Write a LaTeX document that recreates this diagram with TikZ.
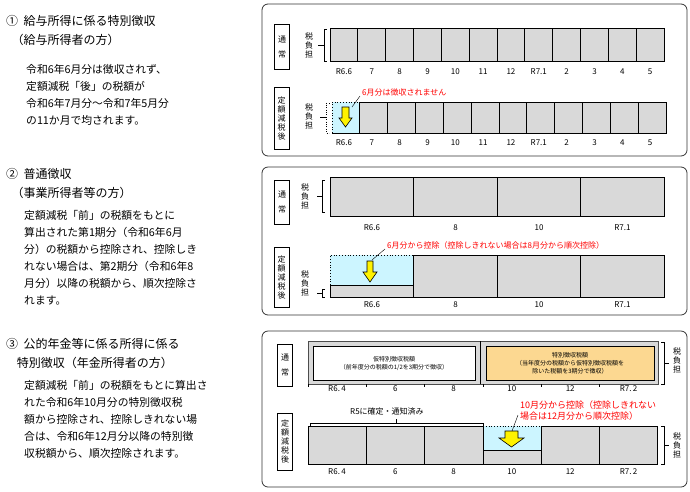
\documentclass[tikz,border=0pt]{standalone}
\usepackage{fontspec}
\setmainfont{Noto Sans CJK JP}
\begin{document}
\begin{tikzpicture}[x=1pt,y=-1pt,
 panel/.style={draw=black!80,line width=0.8pt,rounded corners=6pt},
 cell/.style={draw=black,line width=0.8pt,fill=black!15},
 lbl/.style={font=\fontsize{8}{9}\selectfont,inner sep=0},
 vbox/.style={draw,line width=0.8pt,font=\fontsize{8}{9}\selectfont,align=center,inner sep=1pt},
 red/.style={text=red,font=\fontsize{8}{9}\selectfont,inner sep=0,anchor=west},
 head/.style={anchor=west,font=\fontsize{12}{19}\selectfont,align=left,inner sep=0},
 body/.style={anchor=west,font=\fontsize{10.8}{17}\selectfont,align=left,inner sep=0},
 yarr/.style={fill=yellow,draw=black,line width=0.6pt}]
\useasboundingbox (0,0) rectangle (690,491);
% left texts
\node[head] (h1) at (6,30) {①\ \ 給与所得に係る特別徴収\\\ \ （給与所得者の方）};
\node[body] (b1) at (26,95) {令和6年6月分は徴収されず、\\定額減税「後」の税額が\\令和6年7月分～令和7年5月分\\の11か月で均されます。};
\node[head] (h2) at (6,183) {②\ \ 普通徴収\\\ \ （事業所得者等の方）};
\node[body] (b2) at (24,258) {定額減税「前」の税額をもとに\\算出された第1期分（令和6年6月\\分）の税額から控除され、控除しき\\れない場合は、第2期分（令和6年8\\月分）以降の税額から、順次控除さ\\れます。};
\node[head] (h3) at (6,353) {③\ \ 公的年金等に係る所得に係る\\\ \ \ \ 特別徴収（年金所得者の方）};
\node[body] (b3) at (24,419) {定額減税「前」の税額をもとに算出さ\\れた令和6年10月分の特別徴収税\\額から控除され、控除しきれない場\\合は、令和6年12月分以降の特別徴\\収税額から、順次控除されます。};
% panel 1
\draw[panel] (262,4) rectangle (687,156);
\node[vbox,minimum width=15pt,minimum height=45pt] (t1) at (282,47) {通\\[6pt]常};
\node[vbox,minimum width=15pt,minimum height=62pt] (g1) at (281.5,118.5) {定\\額\\減\\税\\後};
\foreach \i/\l in {0/R6.6,1/7,2/8,3/9,4/10,5/11,6/12,7/R7.1,8/2,9/3,10/4,11/5}{
  \draw[cell] ({330+\i*27.83},28) rectangle ({330+(\i+1)*27.83},61);
  \node[lbl] at ({344+\i*27.83},72) {\l};
  \node[lbl] at ({344+\i*27.83},143) {\l};
  \ifnum\i>0 \draw[cell] ({332+\i*27.83},102) rectangle ({332+(\i+1)*27.83},133);\fi
}
\fill[blue!20!cyan!20] (332,102) rectangle (359.8,133);
\draw[dotted,thick] (332,133) -- (332,102) -- (359.8,102);
\draw[line width=0.8pt] (332,133) -- (359.8,133) -- (359.8,102);
\node[lbl,align=center] at (309,45) {税\\負\\担};
\node[lbl,align=center] at (309,116) {税\\負\\担};
\draw (327,29) -- (324,29) -- (324,61) -- (327,61) (324,45) -- (318,45);
\draw[dotted] (329,103) -- (326,103) -- (326,133) -- (329,133); \draw (326,117) -- (320,117);
\draw[yarr] (342,107) -- (349,107) -- (349,118) -- (352,118) -- (345.5,127) -- (339,118) -- (342,118) -- cycle;
\node[red] (r1) at (362,92) {6月分は徴収されません};
\draw (360,96) -- (352,107);
% panel 2
\draw[panel] (262,167) rectangle (687,315);
\node[vbox,minimum width=15pt,minimum height=44pt] (t2) at (282,202) {通\\[6pt]常};
\node[vbox,minimum width=15pt,minimum height=60pt] (g2) at (281.5,277) {定\\額\\減\\税\\後};
\foreach \i/\l in {0/R6.6,1/8,2/10,3/R7.1}{
  \draw[cell] ({330+\i*83.5},177) rectangle ({330+(\i+1)*83.5},216);
  \node[lbl] at ({372+\i*83.5},228) {\l};
  \node[lbl] at ({372+\i*83.5},305) {\l};
  \ifnum\i>0 \draw[cell] ({330+\i*83.5},255) rectangle ({330+(\i+1)*83.5},297);\fi
}
\fill[blue!20!cyan!20] (330,255) rectangle (413.5,285);
\draw[cell] (330,285) rectangle (413.5,297);
\draw[dotted,thick] (330,285) -- (330,255) -- (413.5,255);
\draw[line width=0.8pt] (413.5,255) -- (413.5,285);
\node[lbl,align=center] at (305,196) {税\\負\\担};
\node[lbl,align=center] at (305,283) {税\\負\\担};
\draw (325,180) -- (322,180) -- (322,212) -- (325,212) (322,196) -- (317,196);
\draw (325,289) -- (322,289) -- (322,297) -- (325,297) (322,293) -- (317,293);
\draw[yarr] (367,261) -- (373,261) -- (373,272) -- (377,272) -- (370,282) -- (363,272) -- (367,272) -- cycle;
\node[red] (r2) at (387,245) {6月分から控除（控除しきれない場合は8月分から順次控除）};
\draw (385,249) -- (372,260);
% panel 3
\draw[panel] (262,331) rectangle (687,487);
\node[vbox,minimum width=15pt,minimum height=42pt] (t3) at (285,365) {通\\[6pt]常};
\node[vbox,minimum width=15pt,minimum height=57pt] (g3) at (285,441.5) {定\\額\\減\\税\\後};
\draw[draw=black!70,line width=0.8pt,fill=black!15] (308,341) rectangle (658,384);
\draw[line width=0.8pt] (480,341) -- (480,384);
\foreach \i/\l in {0/R6.\,4,1/6,2/8,3/10,4/12,5/R7.\,2}{
  \node[lbl] at ({337+\i*58.3},389) {\l};
  \node[lbl] at ({337+\i*58.3},472) {\l};
  \ifnum\i=3\else \draw[cell] ({308+\i*58.3},426) rectangle ({308+(\i+1)*58.3},464);\fi
  \draw[line width=0.6pt] ({308+\i*58.3},384) -- ({308+\i*58.3},387);
}
\node[draw,fill=white,line width=0.8pt,minimum width=162pt,minimum height=34pt,align=center,inner sep=0,font=\fontsize{6}{8}\selectfont] (k1) at (394,363.5) {仮特別徴収税額\\（前年度分の税額の1/2を3期分で徴収）};
\node[draw,fill=yellow!30!orange!40,line width=0.8pt,minimum width=168pt,minimum height=34pt,align=center,inner sep=0,font=\fontsize{6}{8}\selectfont] (k2) at (570,363.5) {特別徴収税額\\（当年度分の税額から仮特別徴収税額を\\除いた税額を3期分で徴収）};
\fill[blue!20!cyan!20] (482.9,426) rectangle (541.2,450);
\draw[cell] (482.9,450) rectangle (541.2,464);
\draw[dotted,thick] (482.9,426) -- (541.2,426);
\draw[line width=0.8pt] (482.9,426) -- (482.9,450) (541.2,426) -- (541.2,450);
\draw[yarr] (505,431) -- (518,431) -- (518,438) -- (524,438) -- (511.5,447) -- (499,438) -- (505,438) -- cycle;
\node[lbl,align=center] (tf1) at (677,360) {税\\負\\担};
\node[lbl,align=center] (tf2) at (677,445) {税\\負\\担};
\draw (661,342) -- (664,342) -- (664,384) -- (661,384) (664,363) -- (669,363);
\draw (661,426) -- (664,426) -- (664,464) -- (661,464) (664,445) -- (669,445);
\draw[line width=0.6pt] (310,426) -- (310,423) -- (483,423) -- (483,426) (396,423) -- (396,419);
\node[lbl,anchor=west] (r5) at (350,411) {R5に確定・通知済み};
\node[red,align=left,font=\fontsize{9}{11}\selectfont] (r3) at (520,410.5) {10月分から控除（控除しきれない\\場合は12月分から順次控除）};
\draw (518,415) -- (512,431);
\end{tikzpicture}
\end{document}
